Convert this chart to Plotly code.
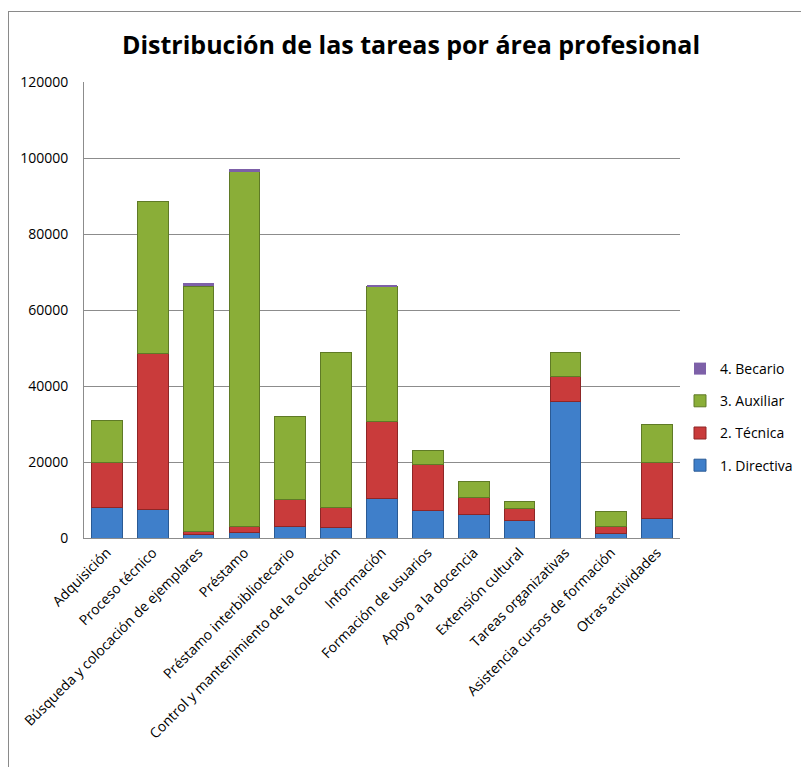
import plotly.graph_objects as go

# areas de trabajo (eje x)
areas = ["Adquisición", "Proceso técnico", "Búsqueda y colocación de ejemplares",
         "Préstamo", "Préstamo interbibliotecario",
         "Control y mantenimiento de la colección", "Información",
         "Formación de usuarios", "Apoyo a la docencia", "Extensión cultural",
         "Tareas organizativas", "Asistencia cursos de formación",
         "Otras actividades"]

# valores, por categoria profesional
directiva = [7900, 7400, 900, 1400, 3000, 2700, 10400, 7200, 6100, 4600, 35900, 1200, 5100]
tecnica = [11900, 41200, 800, 1600, 7200, 5400, 20200, 12200, 4600, 3100, 6600, 1800, 14800]
auxiliar = [11100, 39900, 64600, 93400, 21700, 40700, 35500, 3600, 4200, 2000, 6400, 3900, 9900]
becario = [0, 0, 700, 600, 0, 0, 600, 0, 0, 0, 0, 0, 0]

series = [
    ("1. Directiva", directiva, "#3f7fca", "#2a5a94", 4, 1),
    ("2. Técnica", tecnica, "#c93b3b", "#8e2626", 3, 1),
    ("3. Auxiliar", auxiliar, "#8aae38", "#5f7a26", 2, 1),
    ("4. Becario", becario, "#7d60a8", "#56417a", 1, 0),
]

fig = go.Figure()
for name, vals, col, edge, rank, lw in series:
    fig.add_trace(go.Bar(x=areas, y=vals, name=name, legendgroup=name,
                         legendrank=rank,
                         marker=dict(color=col, line=dict(color=edge, width=lw))))

# the page body has an 8px margin, so figure coords = picture coords - 8
OFF = 8
W, H = 809 - OFF, 767 - OFF
L, R, T, B = 84 - OFF, 809 - 680, 82 - OFF, 767 - 538
pw, ph = W - L - R, H - T - B

def px_x(p):
    return (p - OFF - L) / pw

def px_y(p):
    return (H - B - (p - OFF)) / ph

# marco exterior del grafico (izquierda y arriba)
edge_col = "#8a8a8a"
fig.add_shape(type="line", xref="paper", yref="paper", layer="above",
              x0=px_x(8.5), x1=px_x(8.5), y0=px_y(770), y1=px_y(11),
              line=dict(color=edge_col, width=1))
fig.add_shape(type="line", xref="paper", yref="paper", layer="above",
              x0=px_x(8), x1=px_x(805), y0=px_y(11.5), y1=px_y(11.5),
              line=dict(color=edge_col, width=1.2))

fig.update_layout(
    width=W, height=H,
    margin=dict(l=L, r=R, t=T, b=B, autoexpand=False),
    barmode="stack", bargap=0.33,
    plot_bgcolor="white", paper_bgcolor="white",
    font=dict(family="Open Sans, sans-serif", size=14, color="black"),
    title=dict(text="<b>Distribución de las tareas por área profesional</b>",
               xref="container", x=(411 - OFF) / W, xanchor="center",
               yref="container", y=1 - (45 - OFF) / H, yanchor="middle",
               font=dict(size=25, family="Open Sans, sans-serif")),
    legend=dict(xref="container", x=(680 - OFF) / W, xanchor="left",
                y=px_y(417), yanchor="middle",
                traceorder="grouped", tracegroupgap=11,
                font=dict(size=14), itemwidth=30),
    showlegend=True,
)
fig.update_yaxes(range=[0, 120000], dtick=20000, showgrid=True,
                 gridcolor="#8c8c8c", gridwidth=1, showline=True,
                 linecolor="#8c8c8c", linewidth=1, ticks="",
                 ticklabelstandoff=12, zeroline=False,
                 tickfont=dict(size=14), tickformat="d")
fig.update_xaxes(tickangle=-45, showline=True, linecolor="#8c8c8c",
                 linewidth=1, tickfont=dict(size=14))

fig.write_html("out.html", config={"displayModeBar": False})
